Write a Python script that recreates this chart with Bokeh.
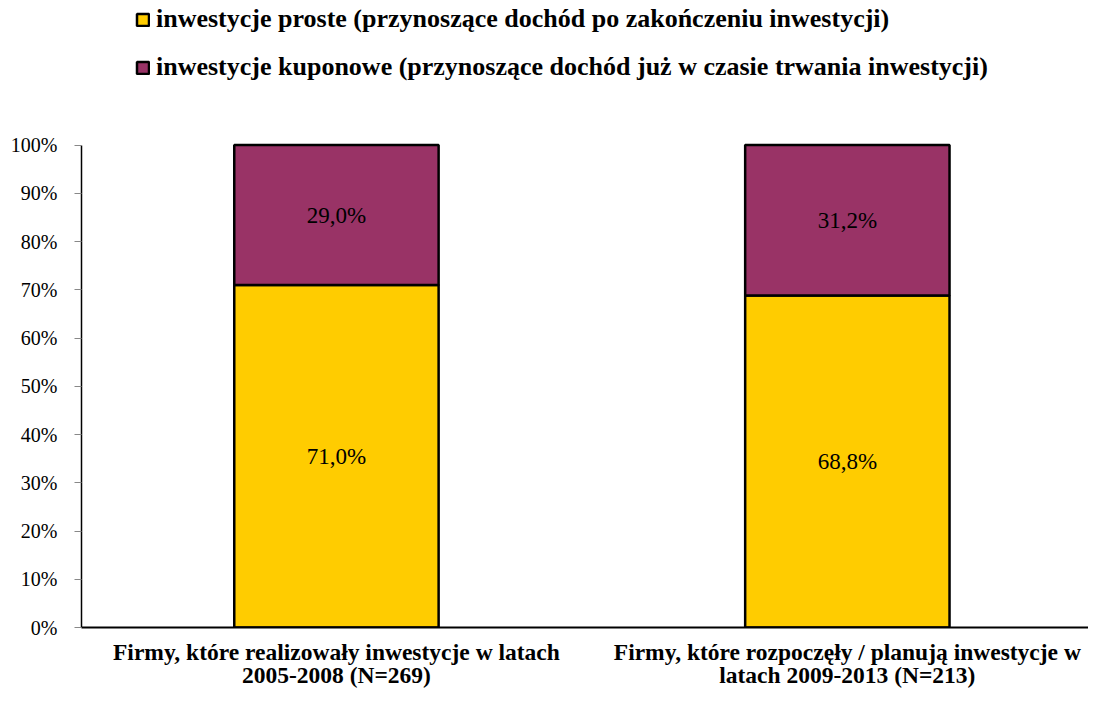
from bokeh.plotting import figure
from bokeh.models import (ColumnDataSource, FixedTicker, Range1d, Legend, LegendItem)
from bokeh.core.properties import value
from bokeh.embed import file_html
from bokeh.resources import INLINE

categories = ["Firmy, które realizowały inwestycje w latach\n2005-2008 (N=269)",
              "Firmy, które rozpoczęły / planują inwestycje w\nlatach 2009-2013 (N=213)"]
series_names = ["inwestycje proste (przynoszące dochód po zakończeniu inwestycji)",
                "inwestycje kuponowe (przynoszące dochód już w czasie trwania inwestycji)"]
proste = [71.0, 68.8]
kuponowe = [29.0, 31.2]
y_ticks = [0, 10, 20, 30, 40, 50, 60, 70, 80, 90, 100]
y_tick_labels = ["0%", "10%", "20%", "30%", "40%", "50%", "60%", "70%", "80%", "90%", "100%"]

colors = ["#FFCC00", "#993366"]
FONT = "Liberation Serif"

xs = [0.5 + i for i in range(len(proste))]
bottom2 = proste
top2 = [a + b for a, b in zip(proste, kuponowe)]

def fmt(v):
    return ("%.1f%%" % v).replace(".", ",")

p = figure(width=1088, height=690, output_backend="svg", toolbar_location=None,
           x_range=Range1d(0.001, 1.972), y_range=Range1d(0, 129.96),
           min_border_left=81, min_border_right=0, min_border_top=0, min_border_bottom=61)
p.outline_line_color = None
p.xgrid.grid_line_color = None
p.ygrid.grid_line_color = None

src1 = ColumnDataSource(dict(x=xs, bottom=[0] * len(proste), top=proste,
                             ym=[v / 2 for v in proste], lab=[fmt(v) for v in proste]))
src2 = ColumnDataSource(dict(x=xs, bottom=bottom2, top=top2,
                             ym=[(a + b) / 2 for a, b in zip(bottom2, top2)],
                             lab=[fmt(v) for v in kuponowe]))

r1 = p.vbar(x="x", bottom="bottom", top="top", width=0.4, source=src1,
            fill_color=colors[0], line_color="black", line_width=2.5)
r2 = p.vbar(x="x", bottom="bottom", top="top", width=0.4, source=src2,
            fill_color=colors[1], line_color="black", line_width=2.5)

for s in (src1, src2):
    p.text(x="x", y="ym", text="lab", source=s, text_align="center", text_baseline="middle",
           text_font=value(FONT), text_font_size="23px", text_color="black")

# axes
p.yaxis.bounds = (0, 100)
p.yaxis.ticker = FixedTicker(ticks=y_ticks)
p.yaxis.major_label_overrides = {t: l for t, l in zip(y_ticks, y_tick_labels)}
p.yaxis.major_label_text_font = FONT
p.yaxis.major_label_text_font_size = "20px"
p.yaxis.major_label_text_color = "black"
p.yaxis.axis_line_color = "black"
p.yaxis.axis_line_width = 1.5
p.yaxis.major_tick_line_color = "#888888"
p.yaxis.major_tick_out = 7
p.yaxis.major_tick_in = 0
p.yaxis.minor_tick_line_color = None
p.yaxis.major_label_standoff = 17

p.xaxis.ticker = FixedTicker(ticks=xs)
p.xaxis.major_label_overrides = {x: c for x, c in zip(xs, categories)}
p.xaxis.major_label_text_font = FONT
p.xaxis.major_label_text_font_size = "23.5px"
p.xaxis.major_label_text_font_style = "bold"
p.xaxis.major_label_text_color = "black"
p.xaxis.major_label_text_line_height = 0.9
p.xaxis.major_label_standoff = 11
p.xaxis.axis_line_color = "black"
p.xaxis.axis_line_width = 2
p.xaxis.major_tick_line_color = None
p.xaxis.major_tick_out = 0
p.xaxis.minor_tick_line_color = None

legend = Legend(items=[LegendItem(label=series_names[0], renderers=[r1]),
                       LegendItem(label=series_names[1], renderers=[r2])],
                location=(54, 545), orientation="vertical",
                padding=0, margin=0, border_line_color=None, background_fill_alpha=0,
                glyph_width=15, glyph_height=15, label_standoff=6,
                label_height=30, spacing=18,
                label_text_font=FONT, label_text_font_size="26px",
                label_text_font_style="bold", label_text_color="black")
p.add_layout(legend, "center")

open("out.html", "w").write(file_html(p, INLINE))
